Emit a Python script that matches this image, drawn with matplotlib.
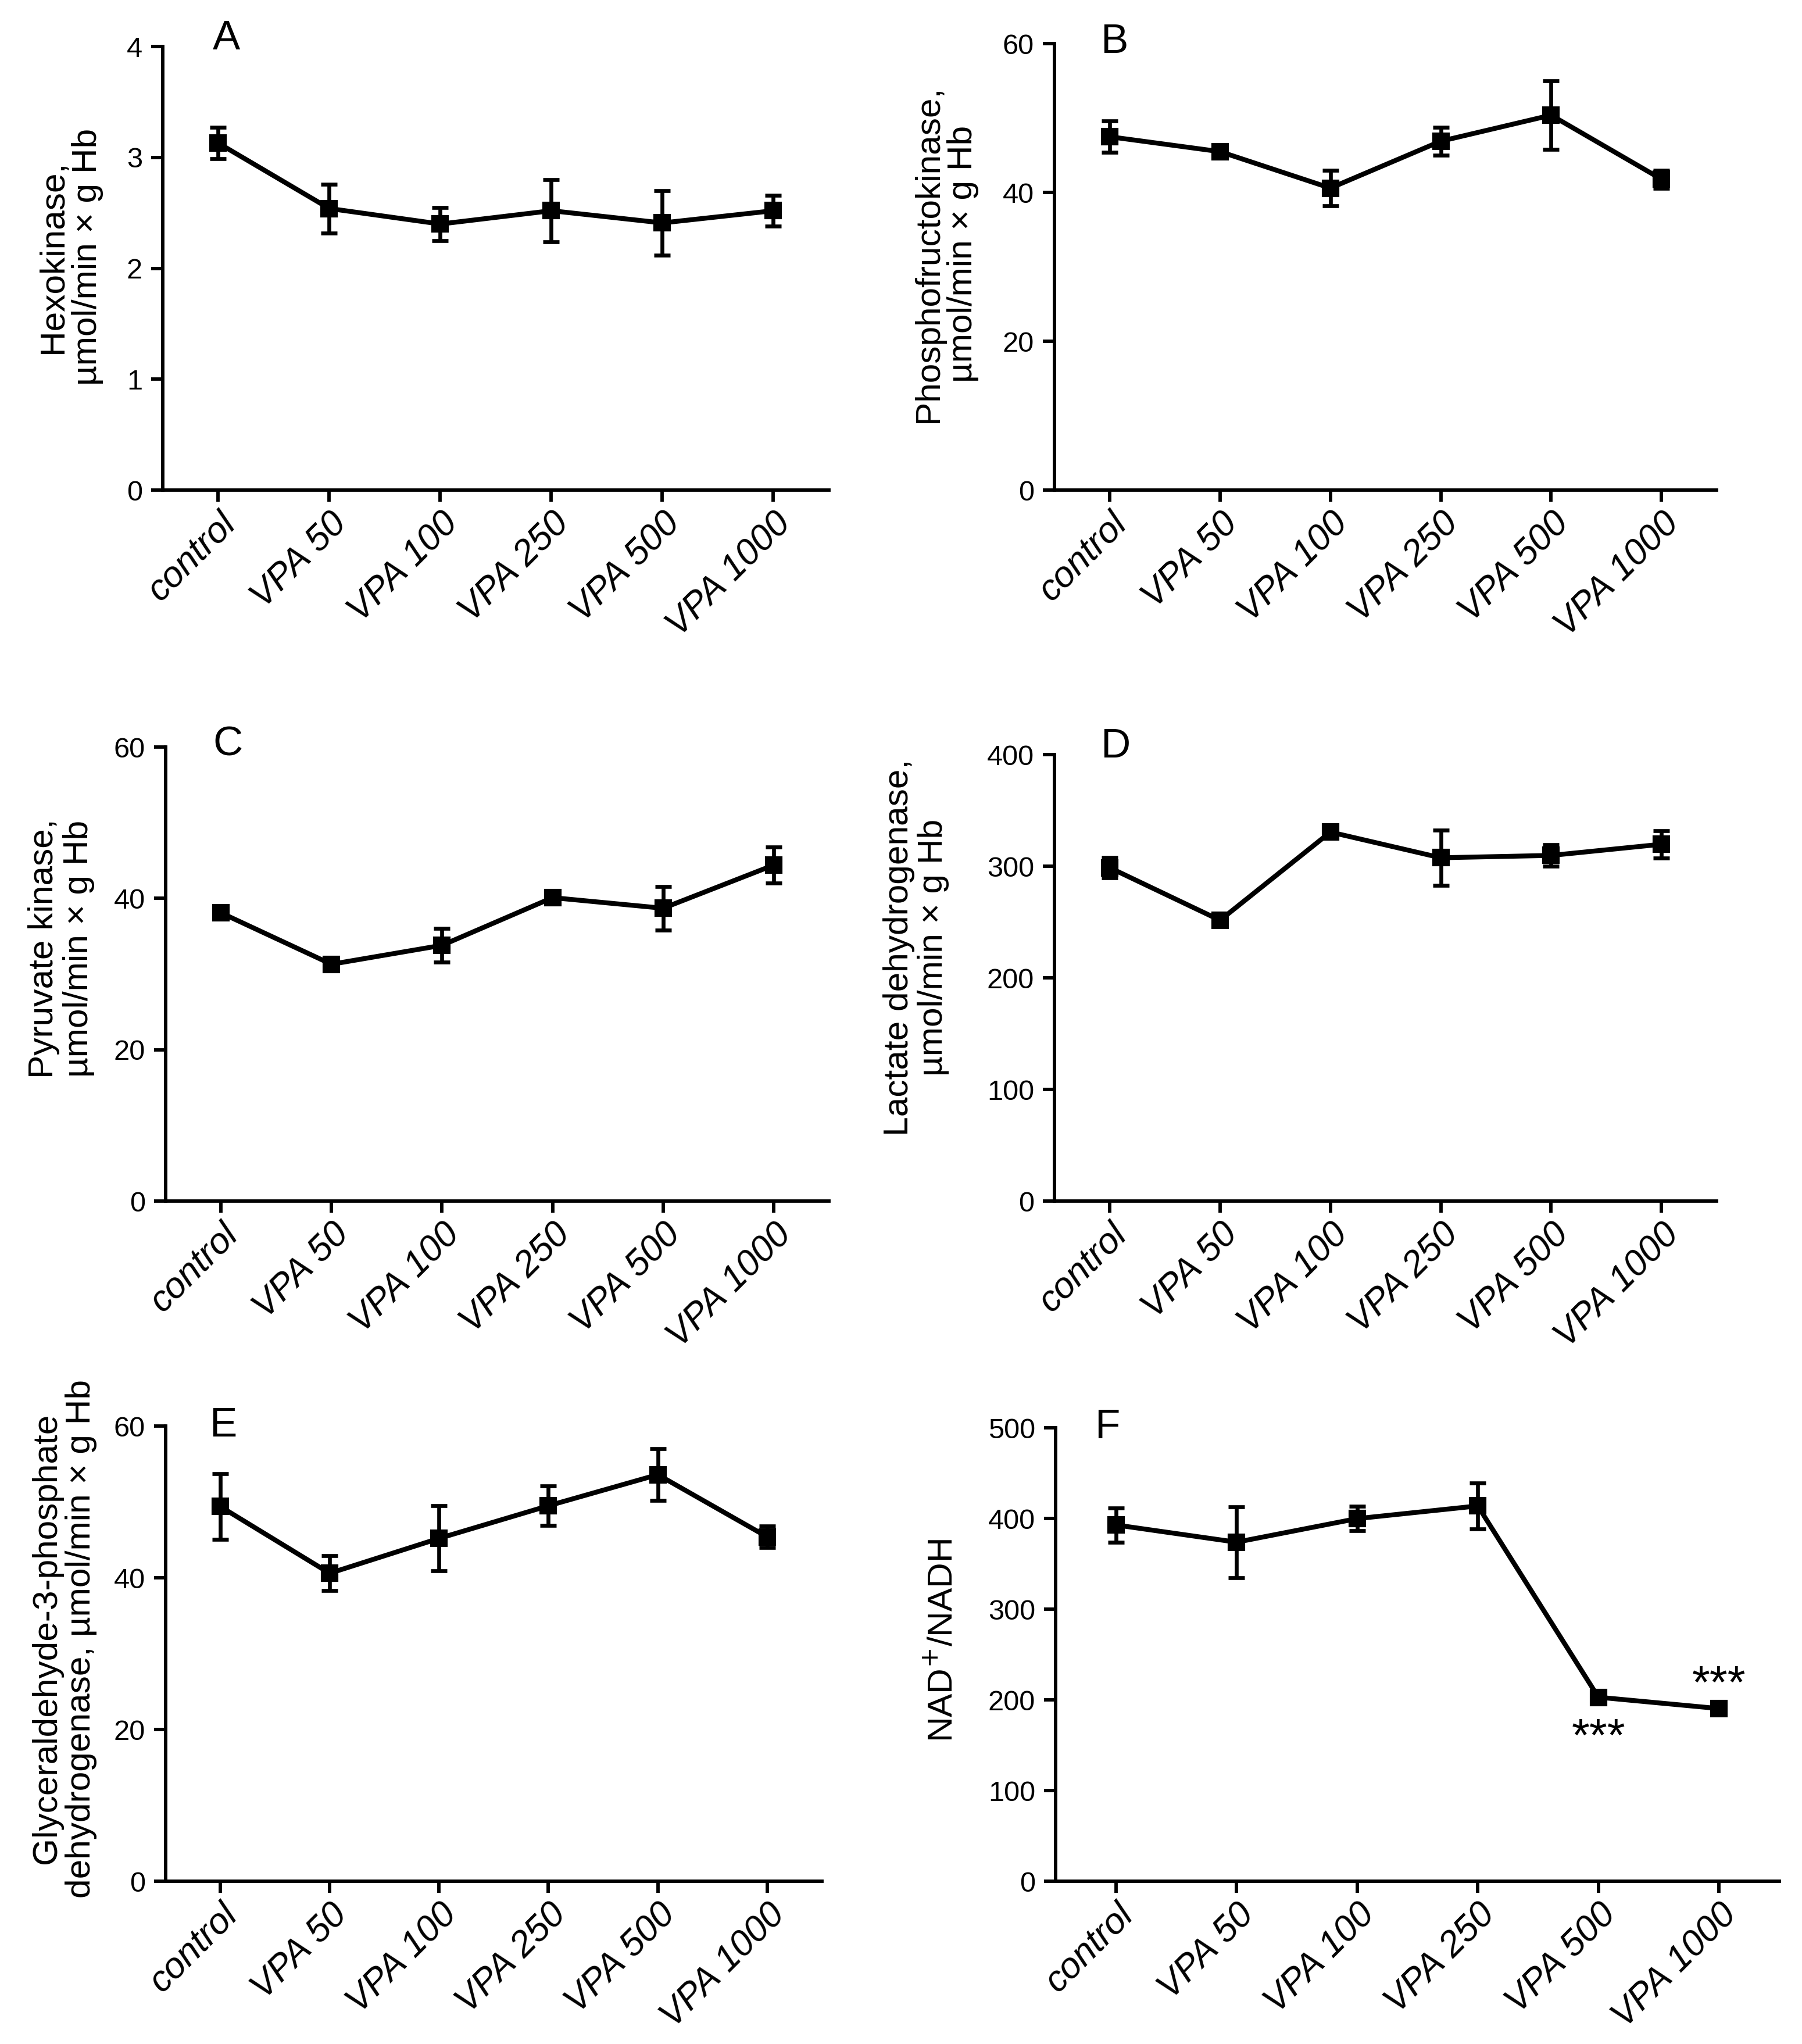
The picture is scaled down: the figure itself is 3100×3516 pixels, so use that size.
import numpy as np
import matplotlib
matplotlib.use("Agg")
import matplotlib.pyplot as plt
from matplotlib.transforms import ScaledTranslation

# groups
groups = ['control', 'VPA 50', 'VPA 100', 'VPA 250', 'VPA 500', 'VPA 1000']

# A - hexokinase
hk_mean = [3.13, 2.54, 2.40, 2.52, 2.41, 2.52]
hk_err = [0.14, 0.22, 0.15, 0.28, 0.29, 0.14]
# B - phosphofructokinase
pfk_mean = [47.5, 45.5, 40.6, 46.9, 50.4, 41.8]
pfk_err = [2.1, 0.7, 2.4, 1.9, 4.6, 1.2]
# C - pyruvate kinase
pk_mean = [38.1, 31.3, 33.8, 40.1, 38.7, 44.4]
pk_err = [0.5, 0.4, 2.2, 0.5, 2.9, 2.4]
# D - lactate dehydrogenase
ldh_mean = [298.7, 251.6, 330.6, 307.6, 309.7, 319.7]
ldh_err = [9.0, 2.0, 5.5, 24.8, 9.8, 12.3]
# E - GAPDH
gapdh_mean = [49.4, 40.6, 45.2, 49.5, 53.6, 45.4]
gapdh_err = [4.3, 2.3, 4.3, 2.6, 3.4, 1.4]
# F - NAD+/NADH
nad_mean = [393, 374, 400, 414, 203, 190.5]
nad_err = [19, 39, 13.5, 25.5, 3, 4]
nad_stars = ['', '', '', '', '***', '***']
nad_star_y = [0, 0, 0, 0, 157, 215]

plt.rcParams['font.family'] = ['Liberation Sans', 'DejaVu Sans']

fig = plt.figure(figsize=(3100 / 300, 3516 / 300), dpi=300)

panels = [
    # letter, mean, err, ymax, step, ylabel, rect, label xy, letter xy
    ('A', hk_mean, hk_err, 4, 1, 'Hexokinase,\n\u00b5mol/min \u00d7 g Hb',
     [0.0903, 0.7602, 0.3697, 0.2170], (-0.089, 0.526), (0.075, 1.017)),
    ('B', pfk_mean, pfk_err, 60, 20, 'Phosphofructokinase,\n\u00b5mol/min \u00d7 g Hb',
     [0.5852, 0.7602, 0.3674, 0.2184], (-0.114, 0.529), (0.069, 1.003)),
    ('C', pk_mean, pk_err, 60, 20, 'Pyruvate kinase,\n\u00b5mol/min \u00d7 g Hb',
     [0.0919, 0.4124, 0.3681, 0.2221], (-0.107, 0.556), (0.071, 1.005)),
    ('D', ldh_mean, ldh_err, 400, 100, 'Lactate dehydrogenase,\n\u00b5mol/min \u00d7 g Hb',
     [0.5852, 0.4124, 0.3674, 0.2184], (-0.159, 0.568), (0.069, 1.017)),
    ('E', gapdh_mean, gapdh_err, 60, 20,
     'Glyceraldehyde-3-phosphate\ndehydrogenase, \u00b5mol/min \u00d7 g Hb',
     [0.0919, 0.0796, 0.3642, 0.2227], (-0.104, 0.533), (0.067, 1.0)),
    ('F', nad_mean, nad_err, 500, 100, 'NAD$^{+}$/NADH',
     [0.5858, 0.0796, 0.4016, 0.2218], (-0.133, 0.531), (0.054, 1.0)),
]

x = np.arange(len(groups))

for letter, mean, err, ymax, step, ylabel, rect, lab_xy, let_xy in panels:
    ax = fig.add_axes(rect)
    ax.errorbar(x, mean, yerr=err, color='black', lw=2.0, marker='s', ms=6.2,
                elinewidth=1.6, capsize=3.4, capthick=1.6)
    ax.set_xlim(-0.5, 5.5)
    ax.set_ylim(0, ymax)
    ax.set_yticks(np.arange(0, ymax + step / 2, step))
    ax.set_xticks(x)
    ax.set_xticklabels(groups, rotation=45, ha='right', va='top',
                       rotation_mode='anchor', fontsize=15, style='italic')
    offset = ScaledTranslation(14 / 300, 0, fig.dpi_scale_trans)
    for lbl in ax.get_xticklabels():
        lbl.set_transform(lbl.get_transform() + offset)
    for lbl in ax.get_yticklabels():
        lbl.set_fontsize(11.7)
    for s in ['top', 'right']:
        ax.spines[s].set_visible(False)
    for s in ['left', 'bottom']:
        ax.spines[s].set_linewidth(1.4)
    ax.tick_params(direction='out', length=4.8, width=1.4)
    ax.tick_params(axis='y', pad=3.6)
    ax.tick_params(axis='x', pad=1.8)
    ax.set_ylabel(ylabel, fontsize=14.5, linespacing=1.1)
    ax.yaxis.set_label_coords(*lab_xy)
    ax.text(let_xy[0], let_xy[1], letter, transform=ax.transAxes, ha='left',
            va='center', fontsize=17)
    if letter == 'F':
        for xi, st, sy in zip(x, nad_stars, nad_star_y):
            if st:
                ax.text(xi, sy, st, ha='center', va='center', fontsize=19)

fig.savefig('out.png', dpi=300)
